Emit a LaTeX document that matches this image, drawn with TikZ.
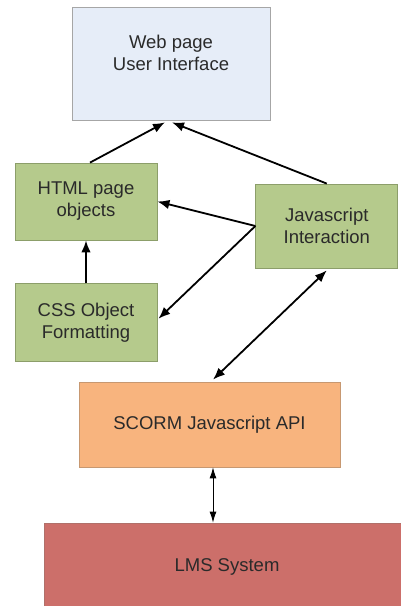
\documentclass[tikz,border=0pt]{standalone}
\usepackage{fontspec}
\setmainfont{Liberation Sans}
\usepackage{tikz}
\usetikzlibrary{arrows.meta,calc,positioning}

\definecolor{webfill}{HTML}{E6EDF8}
\definecolor{webline}{HTML}{A6A6A6}
\definecolor{greenfill}{HTML}{B5CA8C}
\definecolor{greenline}{HTML}{8C9E6A}
\definecolor{apifill}{HTML}{F8B47E}
\definecolor{apiline}{HTML}{C79871}
\definecolor{lmsfill}{HTML}{CC6F6A}
\definecolor{lmsline}{HTML}{B0706A}
\definecolor{textgray}{HTML}{2A2A2A}

\begin{document}
\begin{tikzpicture}[x=1pt, y=1pt, >={Latex[length=12pt,width=9.5pt]}, font=\fontsize{18.5}{22}\selectfont]
	\tikzstyle{block} = [draw, rectangle, align=center, text=textgray, line width=0.8pt]
	\tikzstyle{green block} = [block, fill=greenfill, draw=greenline, minimum width=142pt]
	\tikzstyle{link} = [->, line width=1.8pt]
	
	\useasboundingbox (0,0) rectangle (400,606);
	
	\node [block, fill=webfill, draw=webline, minimum width=198pt, minimum height=113pt] (web) at (171,542.5) {Web page\\User Interface\\\mbox{}};
	\node [green block, minimum height=77pt] (html) at (86,404.5) {HTML page\\objects};
	\node [green block, minimum height=78pt, below = 43pt of html] (css) {CSS Object\\Formatting};
	\node [green block, minimum height=84pt, right = 98pt of html, yshift=-24.5pt] (js) {Javascript\\Interaction};
	
	\node [block, fill=apifill, draw=apiline, minimum width=261pt, minimum height=85pt] (api) at (209.5,181.5) {SCORM Javascript API};
	\node [block, fill=lmsfill, draw=lmsline, minimum width=366pt, minimum height=88pt] (lms) at (227,39) {LMS System};
	
	\coordinate (c1) at ($(html.north)+(4,0)$);
	\coordinate (c2) at ($(web.south)+(-6,-2)$);
	\coordinate (c3) at ($(web.south)+(1,-2)$);
	\coordinate (c4) at ($(api.north)+(3.5,2)$);
	\coordinate (c5) at ($(api.south)+(3.5,0)$);
	
	\draw [link] (c1) -- (c2);
	\draw [link] (js.north) -- (c3);
	\draw [link] (js.west) -- (html.east);
	\draw [link] (js.west) -- ($(css.east)+(1,4)$);
	\draw [link] (css.north) -- (html.south);
	\draw [link, <->] (c4) -- ($(js.south)+(0,-2)$);
	\draw [<->, line width=0.9pt, >={Latex[length=11pt,width=7pt]}] (c5) -- (c5 |- lms.north);
	
\end{tikzpicture}
\end{document}
